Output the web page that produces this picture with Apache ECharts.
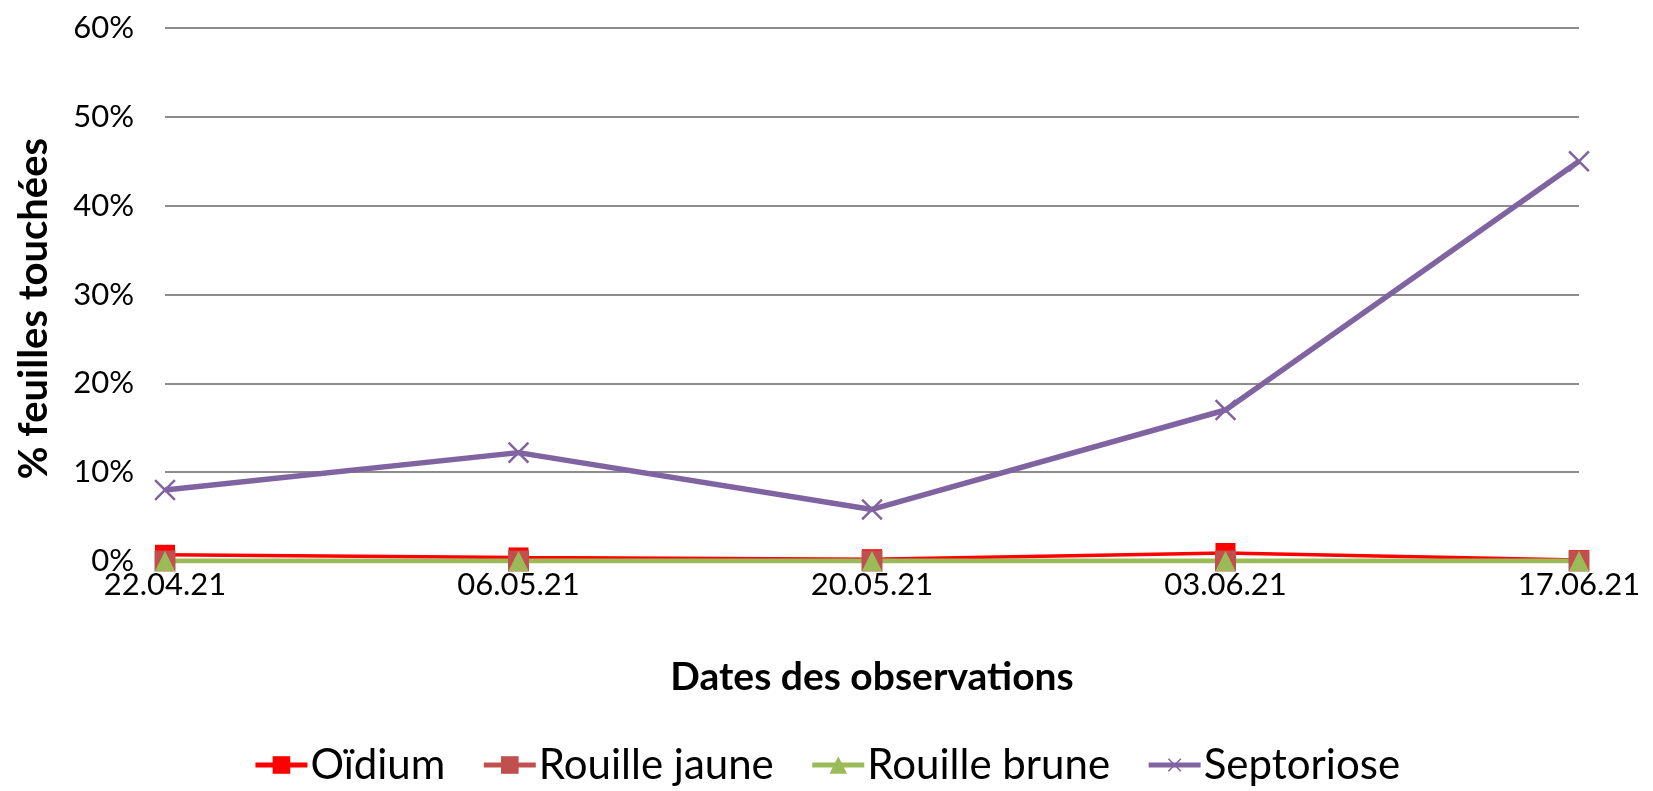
<!DOCTYPE html>
<html>
<head>
<meta charset="utf-8">
<style>
  html, body { margin: 0; padding: 0; background: #fff; }
  #chart { width: 1653px; height: 791px; }
</style>
<script src="https://cdn.jsdelivr.net/npm/echarts@6/dist/echarts.min.js"></script>
</head>
<body>
<div id="chart"></div>
<script>
const dates = ['22.04.21', '06.05.21', '20.05.21', '03.06.21', '17.06.21']
const oidium = [0.7, 0.4, 0.2, 0.9, 0.1]
const rouilleJaune = [0, 0, 0, 0, 0]
const rouilleBrune = [0, 0, 0, 0, 0]
const septoriose = [8.0, 12.2, 5.8, 17.0, 45.0]

const FONT = 'Lato'
// thin plus sign, rotated 45deg to give the "x" marker
const crossPath = 'path://M4.55,0H5.45V4.55H10V5.45H5.45V10H4.55V5.45H0V4.55H4.55Z'

const chart = echarts.init(document.getElementById('chart'))

function line(name, data, color, symbol, size, width, extra) {
  return Object.assign({
    name,
    type: 'line',
    data,
    symbol,
    symbolSize: size,
    showAllSymbol: true,
    lineStyle: { color, width },
    itemStyle: { color },
    animation: false,
  }, extra || {})
}

chart.setOption({
  textStyle: { fontFamily: FONT },
  grid: { left: 165, right: 74, top: 28, bottom: 230 },
  xAxis: {
    type: 'category',
    data: dates,
    boundaryGap: false,
    axisLine: { show: false },
    axisTick: { show: false },
    axisLabel: { color: '#000', fontSize: 31, fontFamily: FONT, margin: 8 },
    name: 'Dates des observations',
    nameLocation: 'middle',
    nameGap: 97,
    nameTextStyle: { color: '#000', fontSize: 39, fontWeight: 'bold', fontFamily: FONT },
  },
  yAxis: {
    type: 'value',
    min: 0,
    max: 60,
    interval: 10,
    axisLine: { show: false },
    axisTick: { show: false },
    axisLabel: { color: '#000', fontSize: 31, fontFamily: FONT, margin: 31, formatter: '{value}%' },
    splitLine: { lineStyle: { color: '#8c8c8c', width: 2 } },
    name: '% feuilles touchées',
    nameLocation: 'middle',
    nameGap: 111,
    nameTextStyle: { color: '#000', fontSize: 40, fontWeight: 'bold', fontFamily: FONT, padding: [0, 0, 0, -28] },
  },
  legend: {
    bottom: 0,
    left: 'center',
    itemWidth: 52,
    itemHeight: 22,
    itemGap: 36,
    lineStyle: { width: 5 },
    textStyle: { color: '#000', fontSize: 42, fontFamily: FONT, padding: [0, 0, 0, -2] },
    data: ['Oïdium', 'Rouille jaune', 'Rouille brune', 'Septoriose'],
  },
  series: [
    line('Oïdium', oidium, '#ff0000', 'rect', 20, 3.5),
    line('Rouille jaune', rouilleJaune, '#c0504d', 'rect', 21, 4),
    line('Rouille brune', rouilleBrune, '#9bbb59', 'triangle', 20, 5),
    line('Septoriose', septoriose, '#8064a2', crossPath, 28, 5.5, { symbolRotate: 45 }),
  ],
})
</script>
</body>
</html>
